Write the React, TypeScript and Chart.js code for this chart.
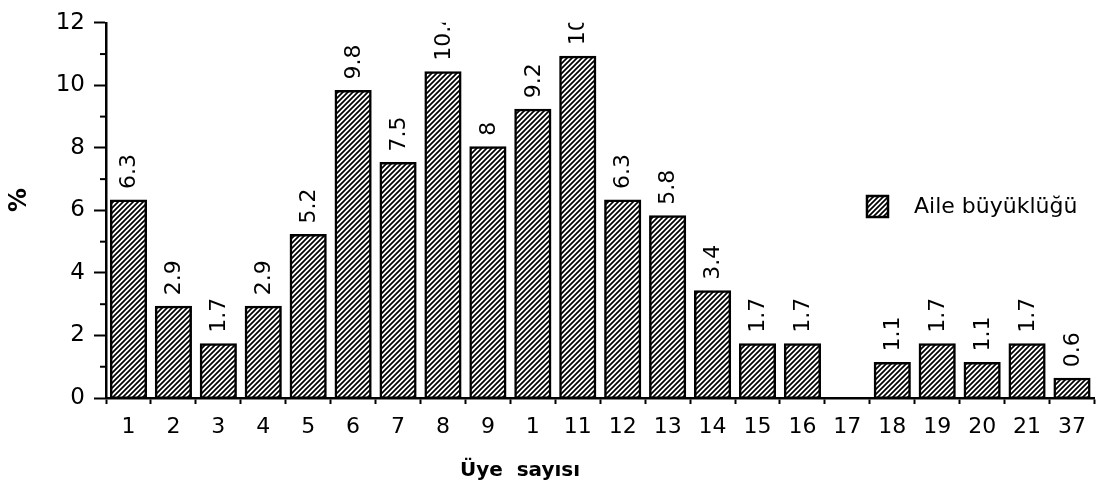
import React, { useEffect, useRef } from "react";
import { Chart, registerables } from "chart.js";

Chart.register(...registerables);

const categories = ["1", "2", "3", "4", "5", "6", "7", "8", "9", "1", "11", "12", "13", "14", "15", "16", "17", "18", "19", "20", "21", "37"];
const values = [6.3, 2.9, 1.7, 2.9, 5.2, 9.8, 7.5, 10.4, 8, 9.2, 10.9, 6.3, 5.8, 3.4, 1.7, 1.7, 0, 1.1, 1.7, 1.1, 1.7, 0.6];
const seriesLabel = "Aile büyüklüğü";
const xTitle = "Üye  sayısı";
const yTitle = "%";
const yMin = 0;
const yMax = 12;

const FONT = "'DejaVu Sans', sans-serif";

function makePattern(): CanvasPattern | string {
  const c = document.createElement("canvas");
  const s = 5;
  c.width = s;
  c.height = s;
  const g = c.getContext("2d");
  if (!g) return "#888";
  g.fillStyle = "#fff";
  g.fillRect(0, 0, s, s);
  g.strokeStyle = "#000";
  g.lineWidth = 1.7;
  g.beginPath();
  g.moveTo(-1, s + 1);
  g.lineTo(s + 1, -1);
  g.moveTo(-1, 1);
  g.lineTo(1, -1);
  g.moveTo(s - 1, s + 1);
  g.lineTo(s + 1, s - 1);
  g.stroke();
  const p = g.createPattern(c, "repeat");
  return p || "#888";
}

export default function App() {
  const ref = useRef<HTMLCanvasElement | null>(null);

  useEffect(() => {
    if (!ref.current) return;
    const pattern = makePattern();

    const extras = {
      id: "extras",
      afterDraw(chart: any) {
        const ctx = chart.ctx as CanvasRenderingContext2D;
        const area = chart.chartArea;
        const y = chart.scales.y;
        // minor ticks
        ctx.save();
        ctx.strokeStyle = "#000";
        ctx.lineWidth = 2;
        for (let v = yMin + 1; v < yMax; v += 2) {
          const py = y.getPixelForValue(v);
          ctx.beginPath();
          ctx.moveTo(area.left - 6, py);
          ctx.lineTo(area.left, py);
          ctx.stroke();
        }
        ctx.restore();

        // data labels
        const meta = chart.getDatasetMeta(0);
        ctx.save();
        ctx.beginPath();
        ctx.rect(0, area.top, chart.width, chart.height);
        ctx.clip();
        ctx.fillStyle = "#000";
        ctx.font = `22px ${FONT}`;
        ctx.textAlign = "left";
        ctx.textBaseline = "middle";
        meta.data.forEach((bar: any, i: number) => {
          const v = values[i];
          if (!v) return;
          ctx.save();
          ctx.translate(bar.x, bar.y - 12);
          ctx.rotate(-Math.PI / 2);
          ctx.fillText(String(v), 0, 1);
          ctx.restore();
        });
        ctx.restore();

        // legend
        ctx.save();
        const lx = 867;
        const ly = 196;
        ctx.fillStyle = pattern as any;
        ctx.fillRect(lx, ly, 21, 21);
        ctx.strokeStyle = "#000";
        ctx.lineWidth = 2.5;
        ctx.strokeRect(lx, ly, 21, 21);
        ctx.fillStyle = "#000";
        ctx.font = `22px ${FONT}`;
        ctx.textAlign = "left";
        ctx.textBaseline = "middle";
        ctx.fillText(seriesLabel, 914, ly + 11);
        ctx.restore();

        // axis titles
        ctx.save();
        ctx.fillStyle = "#000";
        ctx.font = `bold 20px ${FONT}`;
        ctx.textAlign = "center";
        ctx.textBaseline = "middle";
        ctx.fillText(xTitle, 520, 471);
        ctx.translate(20, 200);
        ctx.rotate(-Math.PI / 2);
        ctx.font = `bold 24px ${FONT}`;
        ctx.fillText(yTitle, 0, 0);
        ctx.restore();
      },
    };

    const chart = new Chart(ref.current, {
      type: "bar",
      data: {
        labels: categories,
        datasets: [
          {
            label: seriesLabel,
            data: values,
            backgroundColor: pattern as any,
            borderColor: "#000",
            borderWidth: 2.5,
            borderSkipped: false,
            inflateAmount: 1.5,
            barPercentage: 0.76,
            categoryPercentage: 1,
          },
        ],
      },
      options: {
        animation: false,
        responsive: false,
        layout: { padding: { top: 18, right: 0, left: 0, bottom: 0 } },
        plugins: {
          legend: { display: false },
          tooltip: { enabled: false },
        },
        scales: {
          x: {
            afterFit(scale: any) {
              scale.height = 99;
            },
            border: { color: "#000", width: 2.5 },
            grid: {
              drawOnChartArea: false,
              offset: true,
              tickLength: 6,
              tickWidth: 2,
              tickColor: "#000",
            },
            ticks: {
              color: "#000",
              font: { family: FONT, size: 22 },
              maxRotation: 0,
              autoSkip: false,
              padding: 10,
            },
          },
          y: {
            min: yMin,
            max: yMax,
            afterFit(scale: any) {
              scale.width = 106;
            },
            border: { color: "#000", width: 2.5 },
            grid: {
              drawOnChartArea: false,
              tickLength: 12,
              tickWidth: 2,
              tickColor: (c: any) => (c.tick && c.tick.value % 2 !== 0 ? "rgba(0,0,0,0)" : "#000"),
            },
            ticks: {
              stepSize: 1,
              autoSkip: false,
              color: "#000",
              font: { family: FONT, size: 23 },
              padding: 9,
              callback: (v: any) => (Number(v) % 2 === 0 ? String(v) : ""),
            },
          },
        },
      },
      plugins: [extras],
    });

    return () => chart.destroy();
  }, []);

  return (
    <div style={{ position: "fixed", left: 0, top: 0, width: 1096, height: 497, background: "#fff" }}>
      <canvas ref={ref} width={1096} height={497} style={{ width: 1096, height: 497 }} />
    </div>
  );
}
